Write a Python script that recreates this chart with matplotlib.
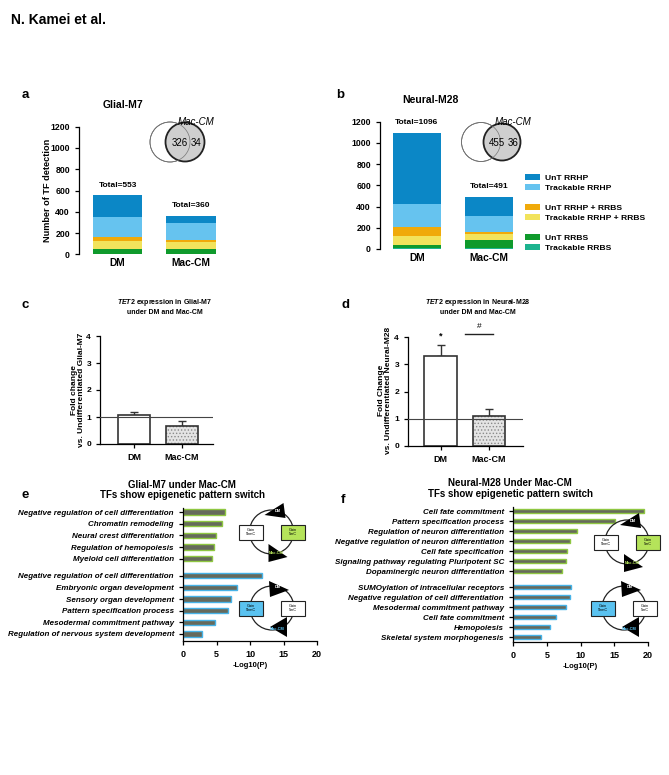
import matplotlib.pyplot as plt
import numpy as np
from matplotlib.patches import Patch, Circle, Rectangle, Polygon

plt.rcParams['font.family'] = ['Liberation Sans', 'DejaVu Sans']
plt.rcParams['font.weight'] = 'bold'
plt.rcParams['axes.labelweight'] = 'bold'
plt.rcParams['mathtext.fontset'] = 'custom'
plt.rcParams['mathtext.it'] = 'Liberation Sans:italic:bold'
plt.rcParams['mathtext.rm'] = 'Liberation Sans:bold'
plt.rcParams['hatch.linewidth'] = 0.6

# ---- data ----
groups = ['DM', 'Mac-CM']
# stacked segments, bottom to top
series = ['Trackable RRBS', 'UnT RRBS', 'Trackable RRHP + RRBS',
          'UnT RRHP + RRBS', 'Trackable RRHP', 'UnT RRHP']
series_colors = ['#1db38f', '#0f9a2c', '#f2e35c', '#f0aa0a', '#66c3ef', '#0b87c6']
glial_dm = [5, 42, 78, 35, 194, 199]
glial_mac = [5, 45, 63, 22, 156, 69]
neural_dm = [8, 27, 91, 84, 214, 672]
neural_mac = [8, 77, 56, 22, 148, 180]
glial_venn = [326, 34]
neural_venn = [455, 36]

glial_fc = [1.07, 0.67]
glial_err = [0.10, 0.20]
neural_fc = [3.32, 1.10]
neural_err = [0.38, 0.27]

e_green_terms = ['Negative regulation of cell differentiation', 'Chromatin remodeling',
                 'Neural crest differentiation', 'Regulation of hemopoiesis',
                 'Myeloid cell differentiation']
e_green_vals = [6.3, 5.8, 4.9, 4.6, 4.4]
e_blue_terms = ['Negative regulation of cell differentiation', 'Embryonic organ development',
                'Sensory organ development', 'Pattern specification process',
                'Mesodermal commitment pathway', 'Regulation of nervous system development']
e_blue_vals = [11.8, 8.0, 7.2, 6.7, 4.8, 2.9]

f_green_terms = ['Cell fate commitment', 'Pattern specification process',
                 'Regulation of neuron differentiation',
                 'Negative regulation of neuron differentiation', 'Cell fate specification',
                 'Signaling pathway regulating Pluripotent SC',
                 'Dopaminergic neuron differentiation']
f_green_vals = [19.4, 15.1, 9.5, 8.4, 8.0, 7.9, 7.2]
f_blue_terms = ['SUMOylation of intracellular receptors',
                'Negative regulation of cell differentiation', 'Mesodermal commitment pathway',
                'Cell fate commitment', 'Hemopoiesis', 'Skeletal system morphogenesis']
f_blue_vals = [8.6, 8.4, 7.9, 6.4, 5.5, 4.2]

W, H = 669, 775
fig = plt.figure(figsize=(W / 100, H / 100), dpi=100)


def px_axes(x0, y0, x1, y1):
    return fig.add_axes([x0 / W, 1 - y1 / H, (x1 - x0) / W, (y1 - y0) / H])


# overlay in pixel coordinates for free text and drawings
ov = fig.add_axes([0, 0, 1, 1], zorder=10)
ov.set_xlim(0, W)
ov.set_ylim(H, 0)
ov.axis('off')


def style(ax, fs=6.3):
    for s in ['top', 'right']:
        ax.spines[s].set_visible(False)
    for s in ['left', 'bottom']:
        ax.spines[s].set_linewidth(0.9)
    ax.tick_params(width=0.9, length=3, labelsize=fs)


def stacked(ax, dm, mac):
    bottoms = np.zeros(2)
    for c, v in zip(series_colors, zip(dm, mac)):
        ax.bar([0, 1], v, 0.67, bottom=bottoms, color=c, edgecolor='none')
        bottoms += np.array(v)
    for x, t in enumerate(bottoms):
        ax.annotate(f'Total={int(t)}', (x, t), xytext=(0, 7.5), textcoords='offset points',
                    ha='center', va='center', fontsize=6)
    ax.set_ylim(0, 1200)
    ax.set_yticks(range(0, 1201, 200))
    style(ax)
    ax.spines['bottom'].set_visible(False)
    ax.set_xticks([0, 1])
    ax.set_xticklabels(groups, fontsize=7.4)
    ax.tick_params(axis='x', length=0, pad=3)


def venn(cx1, cx2, cy, r1, r2, vals):
    ov.add_patch(Circle((cx1, cy), r1, fc='white', ec='#555555', lw=0.6))
    ov.add_patch(Circle((cx2, cy), r2, fc='#cfcfcf', ec='#222222', lw=1.3))
    ov.add_patch(Circle((cx1, cy), r1, fill=False, ec='#777777', lw=0.5))
    ov.text(cx2 - 5, cy + 1, str(vals[0]), fontsize=7, fontweight='normal', ha='center', va='center')
    ov.text(cx2 + 11.5, cy + 1, str(vals[1]), fontsize=7, fontweight='normal', ha='center', va='center')
    ov.text(cx2 + 11, cy - 20, 'Mac-CM', fontsize=7, fontweight='normal', style='italic',
            ha='center', va='center')


# ---- panel a ----
ax_a = px_axes(79, 126.7, 235, 254.3)
stacked(ax_a, glial_dm, glial_mac)
ax_a.set_xlim(-0.527, 1.6)
venn(170, 185, 142, 20, 19.5, glial_venn)

# ---- panel b ----
ax_b = px_axes(380, 121.7, 540, 249)
stacked(ax_b, neural_dm, neural_mac)
ax_b.set_xlim(-0.514, 1.71)
venn(481, 502, 142, 19.5, 18.5, neural_venn)

handles, labels = [], []
for i in [5, 4, None, 3, 2, None, 1, 0]:
    if i is None:
        handles.append(Patch(fc='none', ec='none'))
        labels.append(' ')
    else:
        handles.append(Patch(fc=series_colors[i], ec='none'))
        labels.append(series[i])
fig.legend(handles, labels, loc='upper left', bbox_to_anchor=(525 / W, 1 - 173.5 / H),
           frameon=False, fontsize=6.1, handlelength=1.75, handleheight=0.75,
           handletextpad=0.6, labelspacing=0.24, borderpad=0, borderaxespad=0)


# ---- panels c, d ----
def fold_bars(ax, fc, err):
    x = np.arange(2)
    ax.bar(x[:1], fc[:1], 0.667, color='white', edgecolor='#333333', lw=1.2, zorder=2)
    ax.bar(x[1:], fc[1:], 0.667, color='#e4e4e4', edgecolor='#8a8a8a', lw=0, hatch='.....',
           zorder=2)
    ax.bar(x[1:], fc[1:], 0.667, fill=False, edgecolor='#333333', lw=1.2, zorder=3)
    ax.errorbar(x, fc, yerr=[np.zeros(2), err], fmt='none', ecolor='#333333',
                elinewidth=1, capsize=3, capthick=1, zorder=1)
    ax.axhline(1, color='#444444', lw=0.8, zorder=4)
    ax.set_ylim(0, 4)
    ax.set_yticks(range(5))
    style(ax, 6)
    ax.set_xticks(x)
    ax.set_xticklabels(groups, fontsize=6.5)


ax_c = px_axes(100, 336, 213, 444)
fold_bars(ax_c, glial_fc, glial_err)
ax_c.set_xlim(-0.708, 1.646)

ax_d = px_axes(408, 337, 523, 446)
fold_bars(ax_d, neural_fc, neural_err)
ax_d.set_xlim(-0.67, 1.70)
ax_d.text(0, 4.05, '*', ha='center', va='center', fontsize=6.5, clip_on=False)
ax_d.plot([0.505, 1.08], [4.11, 4.11], color='#222222', lw=1, clip_on=False)
ax_d.text(0.79, 4.37, '#', ha='center', va='center', fontsize=6, fontweight='normal',
          clip_on=False)


# ---- panels e, f ----
def go_bars(ax, gterms, gvals, bterms, bvals, gap):
    yg = np.arange(len(gterms))
    yb = len(gterms) - 1 + gap + np.arange(len(bterms))
    ax.barh(yg, gvals, 0.45, color='#666a5c', edgecolor='#8fc742', lw=1)
    ax.barh(yb, bvals, 0.45, color='#666a5c', edgecolor='#47b3e8', lw=1)
    ax.set_xlim(0, 20)
    ax.set_xticks(range(0, 21, 5))
    style(ax, 6.5)
    ax.set_yticks(np.concatenate([yg, yb]))
    ax.set_yticklabels(gterms + bterms, style='italic')
    ax.tick_params(axis='y', length=3, pad=3.5, labelsize=5.75)
    ax.set_xlabel('-Log10(P)', fontsize=5.5, labelpad=2)
    return yb[-1]


ax_e = px_axes(183, 508, 317, 641)
last = go_bars(ax_e, e_green_terms, e_green_vals, e_blue_terms, e_blue_vals, 1.45)
ax_e.set_ylim(last + 0.6, -0.35)

ax_f = px_axes(513, 507, 648, 642)
last = go_bars(ax_f, f_green_terms, f_green_vals, f_blue_terms, f_blue_vals, 1.6)
ax_f.set_ylim(last + 0.5, -0.4)


def cycle(cx, cy, accent, green):
    ov.add_patch(Circle((cx, cy), 22, fill=False, ec='#222222', lw=0.9))
    left_fc = 'white' if green else accent
    right_fc = accent if green else 'white'
    for bx, fc, txt in [(cx - 21, left_fc, 'Gain\n5hmC'), (cx + 21, right_fc, 'Gain\n5mC')]:
        ov.add_patch(Rectangle((bx - 12, cy - 7.5), 24, 15, fc=fc, ec='#222222', lw=0.8))
        ov.text(bx, cy, txt, fontsize=2.8, fontweight='normal', ha='center', va='center',
                linespacing=1.1)
    ty, by = cy - 22, cy + 22
    if green:
        top = [(-9, 5), (10, -7), (12, 8)]
        bot = [(-5, -10), (-5, 8), (14, 3)]
    else:
        top = [(-5, -5), (-4, 11), (15, 4)]
        bot = [(-4, -3), (13, -13), (13, 7)]
    ov.add_patch(Polygon([(cx + 2 + dx, ty + dy) for dx, dy in top], fc='black', ec='none'))
    ov.add_patch(Polygon([(cx + 2 + dx, by + dy) for dx, dy in bot], fc='black', ec='none'))
    ov.text(cx + 6, ty + 1.5, 'DM', color='white', fontsize=2.8, ha='center', va='center')
    ov.text(cx + 5, by - 0.5, 'Mac-CM', color=accent, fontsize=2.8, ha='center', va='center')


cycle(271.5, 532, '#b5e35a', True)
cycle(272, 608, '#5ac2f0', False)
cycle(627, 542, '#b5e35a', True)
cycle(624, 608, '#5ac2f0', False)

# ---- free text ----
ov.text(11, 20, 'N. Kamei et al.', fontsize=10, ha='left', va='center')
for lab, x, y in [('a', 25, 95), ('b', 340, 95), ('c', 25, 305), ('d', 345, 305),
                  ('e', 25, 495), ('f', 343, 500)]:
    ov.text(x, y, lab, fontsize=9.5, ha='center', va='center')
ov.text(123, 105, 'Glial-M7', fontsize=7.5, ha='center', va='center')
ov.text(430, 100, 'Neural-M28', fontsize=7.5, ha='center', va='center')
ov.text(47, 190, 'Number of TF detection', fontsize=6.6, rotation=90, ha='center', va='center')

ov.text(165, 302, '$\\mathit{TET2}$ expression in Glial-M7', fontsize=5, ha='center', va='center')
ov.text(165, 312.5, 'under DM and Mac-CM', fontsize=5, ha='center', va='center')
ov.text(478, 302, '$\\mathit{TET2}$ expression in Neural-M28', fontsize=5, ha='center', va='center')
ov.text(478, 312.5, 'under DM and Mac-CM', fontsize=5, ha='center', va='center')
ov.text(78, 390, 'Fold change\nvs. Undifferentiated Glial-M7', fontsize=6, rotation=90,
        ha='center', va='center', linespacing=1.1)
ov.text(385, 390, 'Fold Change\nvs. Undifferentiated Neural-M28', fontsize=6, rotation=90,
        ha='center', va='center', linespacing=1.1)

ov.text(182, 485, 'Glial-M7 under Mac-CM', fontsize=7, ha='center', va='center')
ov.text(182, 495, 'TFs show epigenetic pattern switch', fontsize=7, ha='center', va='center')
ov.text(510, 483, 'Neural-M28 Under Mac-CM', fontsize=7, ha='center', va='center')
ov.text(510, 494, 'TFs show epigenetic pattern switch', fontsize=7, ha='center', va='center')

fig.savefig('out.png', dpi=100)
